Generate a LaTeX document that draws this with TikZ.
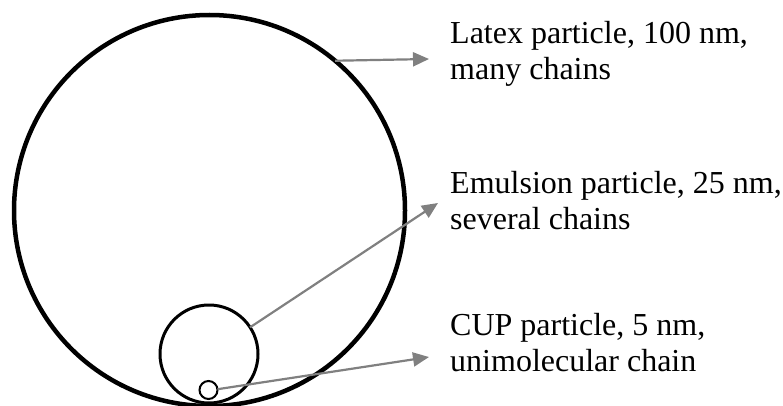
\documentclass[tikz,border=0pt]{standalone}
\usepackage{fontspec}
\setmainfont{Liberation Serif}
\usetikzlibrary{arrows.meta}
\tikzset{
  particle/.style={circle, draw=black, inner sep=0pt, outer sep=0pt},
  pointer/.style={draw=gray, line width=2.2pt, -{Triangle[length=16pt,width=14pt]}},
  label/.style={anchor=base west, inner sep=0pt, align=left, font=\fontsize{32}{36}\selectfont}
}
\begin{document}
\begin{tikzpicture}[x=1pt,y=-1pt]
\useasboundingbox (0,0) rectangle (783,406);
\node[particle, line width=4.5pt, minimum size=391pt] (big) at (209.5,210.5) {};
\node[particle, line width=3pt, minimum size=98pt] (mid) at (209,354) {};
\node[particle, line width=2pt, minimum size=18pt] (small) at (208.5,390) {};
\node[label] (latex) at (450,80) {Latex particle, 100 nm,\\many chains};
\node[label] (emul) at (450,229) {Emulsion particle, 25 nm,\\several chains};
\node[label] (cup) at (450,371) {CUP particle, 5 nm,\\unimolecular chain};
\coordinate (t1) at (429,59);
\coordinate (t2) at (438,203);
\coordinate (t3) at (429,357);
\draw[pointer] (big.50.7) -- (t1);
\draw[pointer] (mid.33.7) -- (t2);
\draw[pointer] (small.5) -- (t3);
\end{tikzpicture}
\end{document}
